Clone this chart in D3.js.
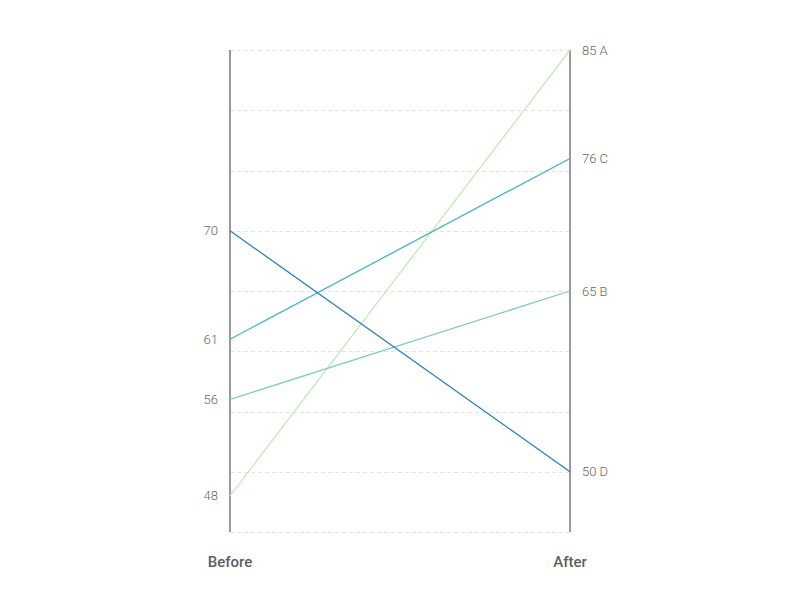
<!DOCTYPE html>
<html>
<head>
<meta charset="utf-8">
<script src="https://cdn.jsdelivr.net/npm/d3@7"></script>
<style>
  body { margin: 0; background: #fff; }
  svg { font-family: Roboto, "Noto Sans", sans-serif; }
</style>
</head>
<body>
<div id="chart"></div>
<script>
const series = ["A", "B", "C", "D"];
const before = [48, 56, 61, 70];
const after = [85, 65, 76, 50];
const periods = ["Before", "After"];
const gridTicks = [45, 50, 55, 60, 65, 70, 75, 80, 85];
const colors = ["#c7e9b4", "#7fcdbb", "#41b6c4", "#2c7fb8"];

const width = 800, height = 600;
const margin = {top: 50, right: 230, bottom: 68, left: 230};

const svg = d3.select("#chart").append("svg")
    .attr("width", width)
    .attr("height", height);

const x = d3.scalePoint()
    .domain(periods)
    .range([margin.left, width - margin.right]);

const y = d3.scaleLinear()
    .domain([45, 85])
    .range([height - margin.bottom, margin.top]);

const color = d3.scaleOrdinal().domain(series).range(colors);

// grid
svg.append("g").selectAll("line")
    .data(gridTicks)
    .enter().append("line")
    .attr("x1", x("Before"))
    .attr("x2", x("After"))
    .attr("y1", d => Math.round(y(d)) + 0.5)
    .attr("y2", d => Math.round(y(d)) + 0.5)
    .attr("stroke", "#e3e3e3")
    .attr("stroke-width", 1)
    .attr("stroke-dasharray", "4,3");

// vertical axes
svg.append("g").selectAll("line")
    .data(periods)
    .enter().append("line")
    .attr("x1", d => x(d))
    .attr("x2", d => x(d))
    .attr("y1", y(85))
    .attr("y2", y(45))
    .attr("stroke", "#999")
    .attr("stroke-width", 2);

const data = series.map((s, i) => ({name: s, values: [before[i], after[i]]}));

// slopes
svg.append("g").selectAll("line")
    .data(data)
    .enter().append("line")
    .attr("x1", x("Before"))
    .attr("x2", x("After"))
    .attr("y1", d => y(d.values[0]))
    .attr("y2", d => y(d.values[1]))
    .attr("stroke", d => color(d.name))
    .attr("stroke-width", 1.3);

// left labels
svg.append("g").selectAll("text")
    .data(data)
    .enter().append("text")
    .attr("x", x("Before") - 12)
    .attr("y", d => y(d.values[0]))
    .attr("dy", "0.35em")
    .attr("text-anchor", "end")
    .attr("fill", "#666")
    .style("font-size", "13px")
    .style("font-weight", "300")
    .text(d => d.values[0]);

// right labels
svg.append("g").selectAll("text")
    .data(data)
    .enter().append("text")
    .attr("x", x("After") + 12)
    .attr("y", d => y(d.values[1]))
    .attr("dy", "0.35em")
    .attr("text-anchor", "start")
    .attr("fill", "#666")
    .style("font-size", "13px")
    .style("font-weight", "300")
    .text(d => `${d.values[1]} ${d.name}`);

// period labels
svg.append("g").selectAll("text")
    .data(periods)
    .enter().append("text")
    .attr("x", d => x(d))
    .attr("y", 562)
    .attr("dy", "0.35em")
    .attr("text-anchor", "middle")
    .attr("fill", "#5a5f63")
    .style("font-size", "15px")
    .style("font-weight", "500")
    .text(d => d);
</script>
</body>
</html>
